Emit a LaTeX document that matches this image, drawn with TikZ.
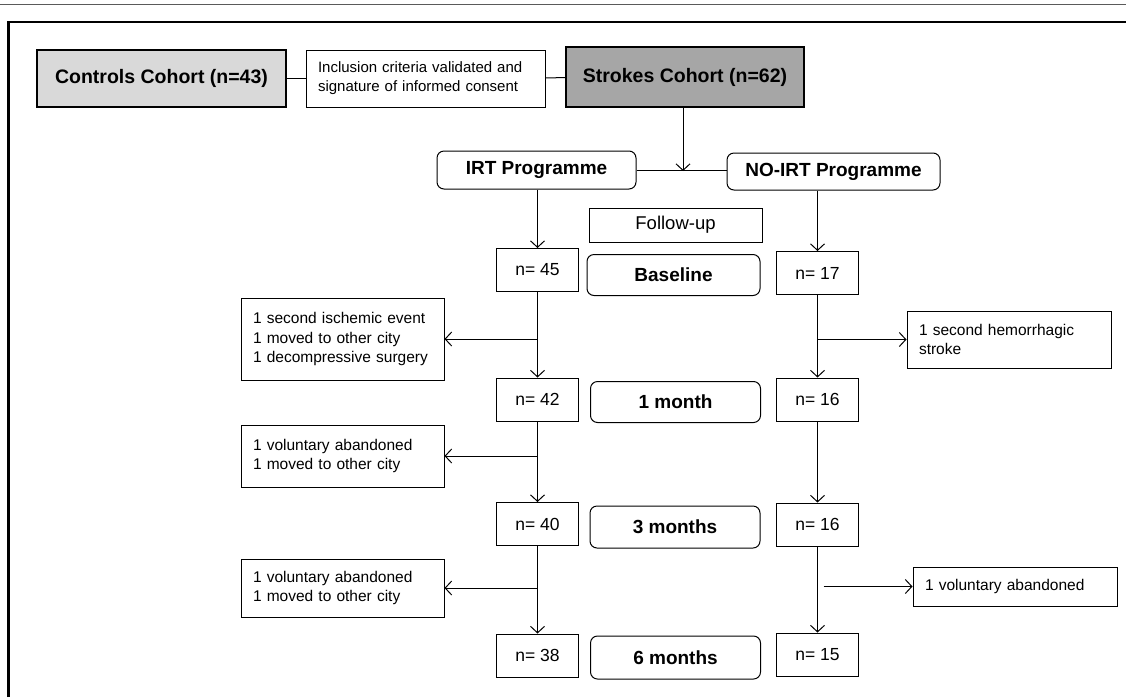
\documentclass[tikz,border=0pt]{standalone}
\usepackage{fontspec}
\setmainfont{Liberation Sans}
\usetikzlibrary{arrows.meta, positioning, shapes}
\definecolor{controls}{RGB}{217,217,217}
\definecolor{strokes}{RGB}{166,166,166}
\definecolor{rule}{RGB}{90,90,90}

\begin{document}
\begin{tikzpicture}[x=1pt, y=-1pt, auto]
\tikzstyle{cohort} = [rectangle, draw, line width=1.2pt, text=black,
    font=\fontsize{19.5}{23}\selectfont\bfseries, minimum width=238pt, minimum height=57pt]
\tikzstyle{note} = [rectangle, draw, line width=1pt, align=left,
    font=\fontsize{15.5}{19.5}\selectfont, text width=179pt, inner xsep=12pt]
\tikzstyle{count} = [rectangle, draw, line width=1pt,
    font=\fontsize{17.5}{20}\selectfont, minimum width=82pt, minimum height=43pt]
\tikzstyle{period} = [rectangle, draw, line width=1pt, rounded corners=7pt,
    font=\fontsize{19}{22}\selectfont\bfseries, minimum width=170pt, minimum height=41pt]
\tikzstyle{prog} = [period, minimum height=38pt]
\tikzstyle{line} = [draw, line width=1pt, -{Straight Barb[length=6.5pt, width=14pt]}]
\tikzstyle{link} = [draw, line width=1pt]

    \useasboundingbox (0,0) rectangle (1126,697);
    % frame
    \draw [rule, line width=1pt] (0,4.5) -- (1126,4.5);
    \draw [line width=2.5pt] (8.5,697) -- (8.5,22) -- (1126,22);

    % Place nodes
    \node [cohort, fill=controls, minimum width=249pt] (controls) at (161.5,78.5) {Controls Cohort (n=43)};
    \node [note, font=\fontsize{15}{19}\selectfont, text width=215pt, minimum height=57pt] (consent) at (425.5,78.5) {Inclusion criteria validated and\\signature of informed consent};
    \node [cohort, fill=strokes, minimum height=60pt] (strokes) at (685,77) {Strokes Cohort (n=62)};
    \node [prog, minimum width=199pt] (irt) at (536.5,170) {IRT Programme};
    \node [prog, minimum width=213pt, minimum height=37pt] (noirt) at (833.5,171.5) {NO-IRT Programme};
    \node [rectangle, draw, line width=1pt, font=\fontsize{18.5}{22}\selectfont,
        minimum width=173pt, minimum height=34pt] (follow) at (675.5,225) {Follow-up};

    \node [count] (n45) at (537.5,270) {n= 45};
    \node [period, minimum width=173pt] (base) at (673.5,275) {Baseline};
    \node [count] (n17) at (817.5,273) {n= 17};

    \node [count] (n42) at (537.5,399.5) {n= 42};
    \node [period] (month1) at (675.5,402) {1 month};
    \node [count] (n16a) at (817.5,399.5) {n= 16};

    \node [count] (n40) at (537.5,524) {n= 40};
    \node [period, minimum height=42pt] (month3) at (675,527) {3 months};
    \node [count] (n16b) at (817.5,524.5) {n= 16};

    \node [count] (n38) at (537.5,655.5) {n= 38};
    \node [period, minimum height=43pt] (month6) at (675.5,657.5) {6 months};
    \node [count] (n15) at (817.5,654.5) {n= 15};

    \node [note, minimum height=82pt] (lost1) at (342.5,339) {1 second ischemic event\\1 moved to other city\\1 decompressive surgery};
    \node [note, minimum height=62pt] (lost2) at (342.5,456) {1 voluntary abandoned\\1 moved to other city};
    \node [note, minimum height=58pt] (lost3) at (342.5,588) {1 voluntary abandoned\\1 moved to other city};
    \node [note, text width=180pt, minimum height=57pt] (drop1) at (1009,339.5) {1 second hemorrhagic\\stroke};
    \node [note, text width=180pt, minimum height=39pt] (drop2) at (1015,586.5) {1 voluntary abandoned};

    \coordinate (split) at (683,171);

%paths
    \path [link] (controls) -- (consent);
    \path [link] (consent) -- (strokes);
    \path [line] (strokes.south -| split) -- (split);
    \path [link] (irt.east) -- (irt.east -| noirt.west);

    \path [line] (n45.north |- irt.south) -- (n45);
    \path [line] (n45) -- (n42);
    \path [line] (n45.south |- lost1.east) -- (lost1);
    \path [line] (n42) -- (n40);
    \path [line] (n42.south |- lost2.east) -- (lost2);
    \path [line] (n40) -- (n38);
    \path [line] (n40.south |- lost3.east) -- (lost3);

    \path [line] (n17.north |- noirt.south) -- (n17);
    \path [line] (n17) -- (n16a);
    \path [line] (n17.south |- drop1.west) -- (drop1);
    \path [line] (n16a) -- (n16b);
    \path [line] (n16b) -- (n15);
    \path [line] ([xshift=6pt]n16b.south |- drop2.west) -- (drop2);

\end{tikzpicture}
\end{document}
